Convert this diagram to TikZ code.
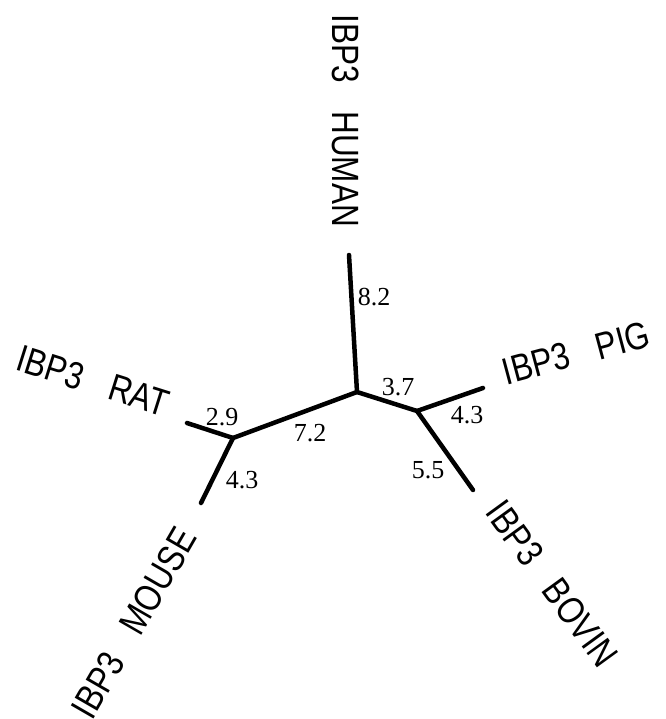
\documentclass[tikz,border=0pt]{standalone}
\usepackage{fontspec}
\setmainfont{Liberation Serif}
\newfontfamily\labfont[FakeStretch=0.83,WordSpace=3.2]{Liberation Sans}
\begin{document}
\begin{tikzpicture}[x=1pt,y=-1pt,
  branch/.style={line width=4.5pt,line cap=round},
  taxon/.style={font=\labfont\fontsize{38}{38}\selectfont,inner sep=0pt,anchor=center},
  blen/.style={font=\fontsize{26}{26}\selectfont,inner sep=0pt,anchor=center}]
\useasboundingbox (0,0) rectangle (665,719);
% tree nodes
\coordinate (C) at (357,392);
\coordinate (L) at (233,438);
\coordinate (R) at (417,411);
\coordinate (hum) at (349,255);
\coordinate (rat) at (187,423);
\coordinate (mou) at (201,503);
\coordinate (pig) at (483,388);
\coordinate (bov) at (473,490);
% branches
\draw[branch] (C) -- (hum);
\draw[branch] (C) -- (L);
\draw[branch] (C) -- (R);
\draw[branch] (L) -- (rat);
\draw[branch] (L) -- (mou);
\draw[branch] (R) -- (pig);
\draw[branch] (R) -- (bov);
% branch lengths
\node[blen] (b82) at (374,297) {8.2};
\node[blen] (b37) at (398,387) {3.7};
\node[blen] (b43p) at (467,415) {4.3};
\node[blen] (b55) at (428,470) {5.5};
\node[blen] (b72) at (310,433) {7.2};
\node[blen] (b29) at (222,417) {2.9};
\node[blen] (b43m) at (242,480) {4.3};
% taxon labels
\node[taxon,rotate=-90] (thum) at (346,121) {IBP3 HUMAN};
\node[taxon,rotate=-17.5] (trat) at (93,381) {IBP3 RAT};
\node[taxon,rotate=15] (tpig) at (576,353) {IBP3 PIG};
\node[taxon,rotate=-54] (tbov) at (552,584) {IBP3 BOVIN};
\node[taxon,rotate=60] (tmou) at (134,623) {IBP3 MOUSE};
\end{tikzpicture}
\end{document}
